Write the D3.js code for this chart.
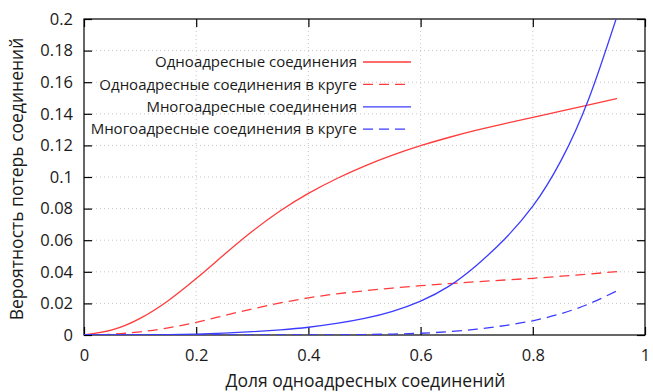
<!DOCTYPE html>
<html>
<head>
<meta charset="utf-8">
<script src="https://cdn.jsdelivr.net/npm/d3@7"></script>
<style>
  body { margin: 0; background: #fff; }
  svg { font-family: "Open Sans", sans-serif; }
</style>
</head>
<body>
<div id="chart"></div>
<script>
// Data
var xValues = [0, 0.05, 0.1, 0.15, 0.2, 0.25, 0.3, 0.35, 0.4, 0.45, 0.5, 0.55, 0.6, 0.65, 0.7, 0.75, 0.8, 0.85, 0.9, 0.95];
var unicast = [0, 0.0032, 0.0105, 0.0217, 0.0357, 0.0509, 0.0656, 0.0786, 0.0896, 0.0989, 0.1069, 0.1138, 0.1198, 0.125, 0.1296, 0.1338, 0.1378, 0.1417, 0.1457, 0.1497];
var unicastRing = [0, 0.0005, 0.002, 0.0045, 0.008, 0.0123, 0.0165, 0.0203, 0.0235, 0.026, 0.028, 0.0297, 0.0312, 0.0325, 0.0337, 0.0348, 0.0359, 0.0372, 0.0386, 0.0401];
var multicast = [0, 0, 0.0001, 0.0003, 0.0006, 0.0012, 0.0021, 0.0033, 0.0049, 0.0073, 0.0105, 0.015, 0.0215, 0.0308, 0.0442, 0.0608, 0.0815, 0.1102, 0.1497, 0.2017];
var multicastRing = [0, 0, 0, 0, 0, 0, 0, 0, 0, 0.0001, 0.0003, 0.0006, 0.0011, 0.0021, 0.0037, 0.006, 0.009, 0.0135, 0.0197, 0.028];
var seriesNames = ["Одноадресные соединения", "Одноадресные соединения в круге", "Многоадресные соединения", "Многоадресные соединения в круге"];
var xTicks = [0, 0.2, 0.4, 0.6, 0.8, 1];
var yTicks = [0, 0.02, 0.04, 0.06, 0.08, 0.1, 0.12, 0.14, 0.16, 0.18, 0.2];
var xTitle = "Доля одноадресных соединений";
var yTitle = "Вероятность потерь соединений";

var svgWidth = 653;
var svgHeight = 392;
var margin = { top: 19, right: 8, bottom: 57, left: 84 };
var width = svgWidth - margin.left - margin.right;
var height = svgHeight - margin.top - margin.bottom;

var svg = d3.select("#chart")
    .append("svg")
    .attr("width", svgWidth)
    .attr("height", svgHeight);

var chartGroup = svg.append("g")
    .attr("transform", `translate(${margin.left}, ${margin.top})`);

var xScale = d3.scaleLinear().domain([0, 1]).range([0, width]);
var yScale = d3.scaleLinear().domain([0, 0.2]).range([height, 0]);

// grid (dotted)
chartGroup.append("g")
    .selectAll("line")
    .data(xTicks.slice(1, -1))
    .enter()
    .append("line")
    .attr("x1", d => xScale(d)).attr("x2", d => xScale(d))
    .attr("y1", 0).attr("y2", height)
    .attr("stroke", "#c8c8c8")
    .attr("stroke-dasharray", "1,3");

chartGroup.append("g")
    .selectAll("line")
    .data(yTicks.slice(1, -1))
    .enter()
    .append("line")
    .attr("x1", 0).attr("x2", width)
    .attr("y1", d => yScale(d)).attr("y2", d => yScale(d))
    .attr("stroke", "#c8c8c8")
    .attr("stroke-dasharray", "1,3");

// axes, ticks pointing inward and mirrored
var tickLen = 8;
var bottomAxis = d3.axisBottom(xScale).tickValues(xTicks).tickSize(-tickLen).tickPadding(14).tickFormat(d3.format("~g"));
var leftAxis = d3.axisLeft(yScale).tickValues(yTicks).tickSize(-tickLen).tickPadding(11).tickFormat(d3.format("~g"));
var topAxis = d3.axisTop(xScale).tickValues(xTicks).tickSize(-tickLen).tickFormat("");
var rightAxis = d3.axisRight(yScale).tickValues(yTicks).tickSize(-tickLen).tickFormat("");

function styleAxis(g) {
    g.select(".domain").remove();
    g.selectAll(".tick line").attr("stroke", "#000").attr("stroke-width", 1.2);
    g.selectAll(".tick text").attr("fill", "#1a1a1a").style("font-size", "16.5px").style("font-family", "'Open Sans', sans-serif");
}

chartGroup.append("g").attr("transform", `translate(0, ${height})`).call(bottomAxis).call(styleAxis);
chartGroup.append("g").call(leftAxis).call(styleAxis);
chartGroup.append("g").call(topAxis).call(styleAxis);
chartGroup.append("g").attr("transform", `translate(${width}, 0)`).call(rightAxis).call(styleAxis);

// frame
chartGroup.append("rect")
    .attr("width", width)
    .attr("height", height)
    .attr("fill", "none")
    .attr("stroke", "#000")
    .attr("stroke-width", 1.2);

// clip
svg.append("defs").append("clipPath").attr("id", "plotclip")
    .append("rect").attr("width", width).attr("height", height);

var series = [
    { name: seriesNames[0], values: unicast, color: "#ff3b3b", dash: null },
    { name: seriesNames[1], values: unicastRing, color: "#ff3b3b", dash: "10,6" },
    { name: seriesNames[2], values: multicast, color: "#3b3bff", dash: null },
    { name: seriesNames[3], values: multicastRing, color: "#3b3bff", dash: "10,6" }
];

var line = d3.line()
    .x((d, i) => xScale(xValues[i]))
    .y(d => yScale(d))
    .curve(d3.curveNatural);

var plot = chartGroup.append("g").attr("clip-path", "url(#plotclip)");
series.forEach(function (s) {
    plot.append("path")
        .datum(s.values)
        .attr("d", line)
        .attr("fill", "none")
        .attr("stroke", s.color)
        .attr("stroke-width", 1.3)
        .attr("stroke-dasharray", s.dash);
});

// legend
var legend = svg.append("g").attr("transform", "translate(357, 62)");
series.forEach(function (s, i) {
    var row = legend.append("g").attr("transform", `translate(0, ${i * 22.4})`);
    row.append("text")
        .attr("x", 0)
        .attr("dy", "0.35em")
        .attr("text-anchor", "end")
        .attr("fill", "#1a1a1a")
        .style("font-size", "15px")
        .text(s.name);
    row.append("line")
        .attr("x1", 6).attr("x2", 54)
        .attr("stroke", s.color)
        .attr("stroke-width", 1.3)
        .attr("stroke-dasharray", s.dash);
});

// axis titles
svg.append("text")
    .attr("x", margin.left + width / 2 + 1)
    .attr("y", 387)
    .attr("text-anchor", "middle")
    .attr("fill", "#1a1a1a")
    .style("font-size", "17.5px")
    .text(xTitle);

svg.append("text")
    .attr("transform", "rotate(-90)")
    .attr("x", -179)
    .attr("y", 23)
    .attr("text-anchor", "middle")
    .attr("fill", "#1a1a1a")
    .style("font-size", "17.5px")
    .text(yTitle);
</script>
</body>
</html>
